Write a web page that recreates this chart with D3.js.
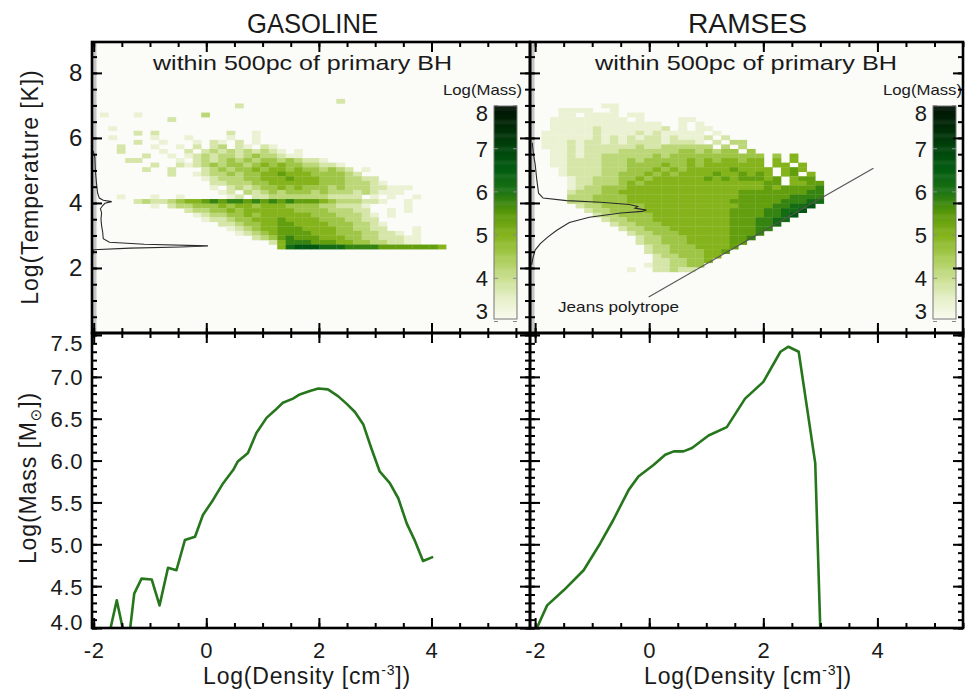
<!DOCTYPE html>
<html><head><meta charset="utf-8">
<script src="https://cdn.jsdelivr.net/npm/d3@7"></script>
<style>
body{margin:0;background:#fff}
svg{display:block}
text{font-family:"Liberation Sans",Arial,Helvetica,sans-serif;fill:#1a1a1a}
</style>
</head><body>
<svg id="c" width="966" height="691"></svg>
<script>
// ---------------- data ----------------
const panelTitles = ["GASOLINE", "RAMSES"];
const subtitle = "within 500pc of primary BH";
const xTickValues = [-2, 0, 2, 4];
const tTickValues = [0, 2, 4, 6, 8];
const tTickLabels = [2, 4, 6, 8];
const mTickValues = [4.0, 4.5, 5.0, 5.5, 6.0, 6.5, 7.0, 7.5];
const cbTickValues = [3, 4, 5, 6, 7, 8];

// histogram binning (Log density, Log temperature)
const binX0 = -2.04, binDX = 0.15, binT0 = 1.88, binDT = 0.14;
// level digit d -> Log(Mass) = levelBase + levelStep*d
const levelBase = 3.0, levelStep = 0.4;

// [temperature row, first density column, levels ('.' = empty)]
const gasolineCells = [
  [37,29,"2"],
  [36,17,"2"],
  [34,1,"1"],[34,5,"1"],[34,13,"3"],
  [33,9,"2"],
  [31,2,"1"],
  [30,5,"2.2"],[30,16,"2..1"],
  [29,2,"1"],[29,7,"1"],[29,11,"1"],[29,16,"1..1"],
  [28,5,"2"],[28,8,"1"],[28,12,"1.21.2.1"],
  [27,3,"2"],[27,7,"1"],[27,10,"1.2.23.21.21"],
  [26,3,"2"],[26,8,"1"],[26,11,"2.2323232321.1"],
  [25,6,"2"],[25,9,"1.12323323433211"],
  [24,4,"22"],[24,10,"1.2323434344343221"],
  [23,7,"2"],[23,10,"21234344345454433221"],
  [22,6,"2"],[22,9,"2"],[22,13,"234344545545443432.1"],
  [21,9,"2"],[21,12,"12334344556555444432"],
  [20,13,"123334455565554443322"],
  [19,14,"223334455555544433321"],
  [18,14,"1.2323445454443433322111"],
  [17,15,"12.3234344434333232111"],
  [16,3,"1"],[16,7,"1"],[16,10,"1"],[16,16,"12.2233333332222.1.1..1"],
  [15,5,"232234556767767676766654333221..1"],
  [14,7,"1"],[14,9,"233444545545554444332221"],[14,37,"1"],
  [13,11,"2334454555555444433322"],[13,35,"1.1"],
  [12,12,"1233445455555544433321"],[12,35,"1"],
  [11,13,"122344555655554443322"],
  [10,15,"22344556655554443321"],
  [9,16,"1234556665555443322"],[9,38,"1"],
  [8,17,"12345666655544433221"],[8,38,"1"],
  [7,19,"23467666555443322211"],
  [6,21,"257776665544332211"],
  [5,22,"58999888777766666665"]
];
const ramsesCells = [
  [36,8,"11"],
  [35,3,"1111"],[35,9,"1"],
  [34,3,"11.1111.11"],
  [33,2,"111111111.1"],[33,17,"11"],
  [32,2,"1111111111111"],[32,17,"1.1"],
  [31,2,"11111211111112.1.11"],
  [30,1,"1111112111121211111.1"],
  [29,1,"11111121212122121112"],[29,22,"2"],
  [28,1,"1112122121222212221"],[28,21,"2.33"],
  [27,1,"11121222222322333333.3.3"],
  [26,2,"1121222233333334434344.4"],
  [25,2,"1121223333334344444444444"],[25,28,"4.5"],
  [24,2,"1122223334344444545455455.5.5"],
  [23,2,"1122223334444544545555555.55.5"],
  [22,3,"1222233344454545555565555.565"],
  [21,3,"1222233444545455556556565.56.5"],
  [20,4,"1223334454555555656566656.566"],
  [19,4,"1223334545555555555555566.5566"],
  [18,4,"123344455555555555555556566667"],
  [17,4,"233344555555555555556666666677"],
  [16,4,"333444455555555555556666667777"],
  [15,4,"333444455555555555566666677788"],
  [14,5,"2334444455555555555666677889"],
  [13,6,"23344445555555555666677889"],
  [12,7,"233444455555555566667789"],
  [11,8,"2334445555555556667788"],
  [10,9,"23344455555555666778"],
  [9,10,"233444555555566677"],
  [8,11,"2334445555556667"],
  [7,12,"23344455555667"],
  [6,12,"2334445555566"],
  [5,13,"23344455556"],
  [4,13,"2334444556"],
  [3,14,"23344455"],
  [2,14,"2233445"],
  [1,13,"1223344"],
  [0,11,"1..22322"]
];

// mass-weighted temperature profiles (black thin lines)
const gasolineProfileT = [5.6,5.4,5.0,4.6,4.3,4.15,4.08,4.04,3.99,3.92,3.82,3.7,3.5,3.3,3.1,2.9,2.79,2.73,2.68,2.645,2.61,2.56,2.4];
const gasolineProfileX = [-2.01,-1.98,-1.97,-1.95,-1.93,-1.90,-1.83,-1.68,-1.80,-1.84,-1.88,-1.86,-1.87,-1.86,-1.84,-1.83,-1.72,-1.10,0.03,-0.45,-1.35,-2.0,-2.02];
const ramsesProfileT = [5.85,5.5,5.2,4.7,4.3,4.15,4.07,4.02,3.95,3.89,3.84,3.78,3.74,3.69,3.56,3.4,3.16,2.95,2.75,2.55,2.3,2.1];
const ramsesProfileX = [-2.05,-2.03,-2.0,-1.97,-1.94,-1.86,-1.45,-0.85,-0.35,-0.20,-0.25,-0.05,-0.12,-0.5,-1.05,-1.4,-1.62,-1.78,-1.91,-2.0,-2.04,-2.06];

// Jeans polytrope
const polytropeDensity = [-0.01, 3.93];
const polytropeT = [1.11, 5.07];

// mass vs density
const gasolineDensity = [-1.80,-1.70,-1.59,-1.47,-1.41,-1.36,-1.28,-1.15,-0.97,-0.83,-0.68,-0.53,-0.38,-0.20,-0.06,0.12,0.30,0.48,0.56,0.74,0.89,1.07,1.22,1.36,1.54,1.66,1.84,1.99,2.16,2.34,2.49,2.64,2.79,2.93,3.08,3.26,3.41,3.56,3.70,3.85,4.03];
const gasolineMass    = [3.80,4.00,4.33,3.95,3.85,3.95,4.41,4.59,4.58,4.27,4.72,4.69,5.05,5.09,5.35,5.53,5.73,5.89,5.99,6.09,6.33,6.51,6.60,6.69,6.74,6.79,6.83,6.86,6.85,6.77,6.68,6.58,6.43,6.15,5.87,5.73,5.55,5.25,5.05,4.80,4.85];
const ramsesDensity = [-1.97,-1.79,-1.50,-1.15,-0.86,-0.63,-0.36,-0.19,0.08,0.28,0.43,0.60,0.75,1.04,1.36,1.68,2.00,2.30,2.44,2.62,2.91,3.00];
const ramsesMass    = [4.00,4.27,4.45,4.69,5.01,5.29,5.65,5.81,5.95,6.07,6.11,6.11,6.15,6.30,6.40,6.74,6.94,7.30,7.36,7.30,5.97,3.95];

// colour table for Log(Mass)
const cmapValues = [3, 3.5, 4, 4.5, 5, 5.5, 6, 6.5, 7, 7.5, 8];
const cmapColors = ["#fbfcf3","#e7f0cb","#c9df91","#a6ca52","#84b31c","#5a990a","#1d7414","#045d12","#00440c","#002a07","#001203"];

// ---------------- drawing ----------------
const svg = d3.select("#c");
const color = d3.scaleLinear().domain(cmapValues).range(cmapColors).interpolate(d3.interpolateRgb).clamp(true);

const boxes = {
  tl:{x0:92, x1:530, y0:42, y1:333},
  tr:{x0:530, x1:963, y0:42, y1:333},
  bl:{x0:92, x1:530, y0:333, y1:628},
  br:{x0:530, x1:963, y0:333, y1:628}
};
const xL = d3.scaleLinear().domain([-2.03, 5.75]).range([92, 530]);
const xR = d3.scaleLinear().domain([-2.09, 5.5]).range([530, 963]);
const yT = d3.scaleLinear().domain([0, 8.95]).range([333, 42]);
const yB = d3.scaleLinear().domain([4, 7.5]).range([628, 335]);
const cbS = d3.scaleLinear().domain([3, 8]).range([321, 105]);

const defs = svg.append("defs");
Object.entries(boxes).forEach(([k,b]) => {
  defs.append("clipPath").attr("id","clip-"+k).append("rect")
    .attr("x",b.x0).attr("y",b.y0).attr("width",b.x1-b.x0).attr("height",b.y1-b.y0);
});

["tl","tr"].forEach(k => {
  const b = boxes[k];
  svg.append("rect").attr("x",b.x0).attr("y",b.y0).attr("width",b.x1-b.x0).attr("height",b.y1-b.y0).attr("fill","#fbfbf8");
});

function expandCells(segs){
  const out = [];
  segs.forEach(([r,c0,s]) => {
    for (let i=0;i<s.length;i++){
      const ch = s[i];
      if (ch === ".") continue;
      out.push({col:c0+i, row:r, v: levelBase + levelStep*(+ch)});
    }
  });
  return out;
}

function heat(key, xs, segs){
  const g = svg.append("g").attr("clip-path","url(#clip-"+key+")");
  g.selectAll("rect").data(expandCells(segs)).join("rect")
    .attr("x", d => xs(binX0 + d.col*binDX))
    .attr("width", d => xs(binX0 + (d.col+1)*binDX) - xs(binX0 + d.col*binDX) + 0.3)
    .attr("y", d => yT(binT0 + (d.row+1)*binDT))
    .attr("height", d => yT(binT0 + d.row*binDT) - yT(binT0 + (d.row+1)*binDT) + 0.3)
    .attr("fill", d => color(d.v));
  const b = boxes[key];
  svg.append("rect").attr("x", b.x0).attr("y", b.y0).attr("width", 4.5).attr("height", b.y1-b.y0).attr("fill","#c6c6c6");
}
heat("tl", xL, gasolineCells);
heat("tr", xR, ramsesCells);

function profile(key, xs, T, X){
  const line = d3.line().x(d => xs(d[0])).y(d => yT(d[1]));
  svg.append("path").attr("clip-path","url(#clip-"+key+")")
    .datum(X.map((x,i)=>[x,T[i]]))
    .attr("d", line).attr("fill","none").attr("stroke","#2b2b2b").attr("stroke-width",1.1);
}
profile("tl", xL, gasolineProfileT, gasolineProfileX);
profile("tr", xR, ramsesProfileT, ramsesProfileX);

svg.append("path").datum(polytropeDensity.map((x,i)=>[x,polytropeT[i]]))
  .attr("d", d3.line().x(d=>xR(d[0])).y(d=>yT(d[1])))
  .attr("stroke","#555").attr("stroke-width",1.1).attr("fill","none");
svg.append("text").attr("x",558).attr("y",312).attr("font-size",15)
  .attr("textLength",121).attr("lengthAdjust","spacingAndGlyphs").text("Jeans polytrope");

function colorbar(xb, labelX0){
  const g = svg.append("g");
  const w = 23, top = 106, bot = 319;
  defs.append("clipPath").attr("id","cb"+xb).append("rect").attr("x",xb).attr("y",top).attr("width",w).attr("height",bot-top);
  const steps = d3.range(3, 8, 0.025);
  g.append("g").attr("clip-path","url(#cb"+xb+")").selectAll("rect").data(steps).join("rect")
    .attr("x", xb).attr("width", w)
    .attr("y", d => cbS(d+0.025)).attr("height", d => cbS(d)-cbS(d+0.025)+0.5)
    .attr("fill", d => color(d+0.0125));
  g.append("rect").attr("x",xb).attr("y",top).attr("width",w).attr("height",bot-top)
    .attr("fill","none").attr("stroke","#777").attr("stroke-width",1);
  const la = g.append("g").attr("transform",`translate(${xb},0)`)
    .call(d3.axisLeft(cbS).tickValues(cbTickValues).tickSizeInner(-4).tickSizeOuter(0).tickPadding(6).tickFormat(d=>String(d)));
  la.select(".domain").remove();
  la.selectAll("line").attr("stroke","#888");
  la.selectAll("text").attr("font-size",22).attr("fill","#1a1a1a")
    .attr("dy", d => d===8 ? "0.72em" : d===3 ? "-0.12em" : "0.36em");
  const ra = g.append("g").attr("transform",`translate(${xb+w},0)`)
    .call(d3.axisRight(cbS).tickValues(cbTickValues).tickSizeInner(-4).tickSizeOuter(0).tickFormat(""));
  ra.select(".domain").remove();
  ra.selectAll("line").attr("stroke","#888");
  g.append("text").attr("x",labelX0).attr("y",95).attr("font-size",15)
    .attr("textLength",79).attr("lengthAdjust","spacingAndGlyphs").text("Log(Mass)");
}
colorbar(494, 443);
colorbar(933, 883);

function curve(key, xs, X, M){
  svg.append("path").attr("clip-path","url(#clip-"+key+")")
    .datum(X.map((x,i)=>[x,M[i]]))
    .attr("d", d3.line().x(d=>xs(d[0])).y(d=>yB(d[1])))
    .attr("fill","none").attr("stroke","#26761c").attr("stroke-width",2.6).attr("stroke-linejoin","round");
}
curve("bl", xL, gasolineDensity, gasolineMass);
curve("br", xR, ramsesDensity, ramsesMass);

const xMinor = d3.range(-2, 5.51, 0.5);
const tMinor = d3.range(0, 8.51, 0.5);
const mMinor = d3.range(4.0, 7.501, 0.1).map(v=>+v.toFixed(2));
function ax(axisFn, scale, tx, ty, vals, size, fmt){
  const a = axisFn(scale).tickValues(vals).tickSizeInner(-size).tickSizeOuter(0).tickPadding(9)
    .tickFormat(fmt || (()=>""));
  const g = svg.append("g").attr("transform",`translate(${tx},${ty})`).call(a);
  g.select(".domain").remove();
  g.selectAll(".tick line").attr("stroke","#000").attr("stroke-width",2);
  g.selectAll(".tick text").attr("font-size",22).attr("fill","#1a1a1a").attr("letter-spacing","0.6px");
  return g;
}
function panelAxes(key, xs, ys, yMaj, yMin, xLab, yLab, yFmt){
  const b = boxes[key];
  ax(d3.axisBottom, xs, 0, b.y1, xMinor, 5);
  const xb = ax(d3.axisBottom, xs, 0, b.y1, xTickValues, 10, xLab ? (d=>String(d)) : null);
  ax(d3.axisTop, xs, 0, b.y0, xMinor, 5);
  ax(d3.axisTop, xs, 0, b.y0, xTickValues, 10);
  ax(d3.axisLeft, ys, b.x0, 0, yMin, 5);
  const yl = ax(d3.axisLeft, ys, b.x0, 0, yMaj, 10, yLab ? yFmt : null);
  ax(d3.axisRight, ys, b.x1, 0, yMin, 5);
  ax(d3.axisRight, ys, b.x1, 0, yMaj, 10);
  svg.append("rect").attr("x",b.x0).attr("y",b.y0).attr("width",b.x1-b.x0).attr("height",b.y1-b.y0)
    .attr("fill","none").attr("stroke","#000").attr("stroke-width",2.6);
  return {xb, yl};
}
const tl = panelAxes("tl", xL, yT, tTickValues, tMinor, false, true, d => tTickLabels.includes(d) ? String(d) : "");
tl.yl.selectAll(".tick text").attr("font-size",24);
panelAxes("tr", xR, yT, tTickValues, tMinor, false, false);
const bl = panelAxes("bl", xL, yB, mTickValues, mMinor, true, true, d3.format(".1f"));
bl.yl.selectAll(".tick text").attr("dy", d => d===7.5 ? "0.72em" : d===4 ? "0.05em" : "0.36em");
bl.xb.selectAll(".tick text").attr("dy","0.95em");
const br = panelAxes("br", xR, yB, mTickValues, mMinor, true, false);
br.xb.selectAll(".tick text").attr("dy","0.95em");

// titles & labels
svg.append("text").attr("x",247).attr("y",33).attr("font-size",27)
  .attr("textLength",131).attr("lengthAdjust","spacingAndGlyphs").text(panelTitles[0]);
svg.append("text").attr("x",688).attr("y",33).attr("font-size",27)
  .attr("textLength",119).attr("lengthAdjust","spacingAndGlyphs").text(panelTitles[1]);
svg.append("text").attr("x",153).attr("y",70).attr("font-size",21)
  .attr("textLength",299).attr("lengthAdjust","spacingAndGlyphs").text(subtitle);
svg.append("text").attr("x",595).attr("y",70).attr("font-size",21)
  .attr("textLength",302).attr("lengthAdjust","spacingAndGlyphs").text(subtitle);

function xLabel(cx){
  const t = svg.append("text").attr("x",cx).attr("y",684).attr("text-anchor","middle").attr("font-size",23).attr("letter-spacing","0.8px");
  t.append("tspan").text("Log(Density [cm");
  t.append("tspan").attr("dy",-9).attr("font-size",14).text("-3");
  t.append("tspan").attr("dy",9).text("])");
}
xLabel(307);
xLabel(748);

svg.append("text").attr("transform","translate(38,187) rotate(-90)").attr("text-anchor","middle")
  .attr("font-size",23).attr("letter-spacing","0.9px").text("Log(Temperature [K])");
const ml = svg.append("text").attr("transform","translate(36,478) rotate(-90)").attr("text-anchor","middle")
  .attr("font-size",23).attr("letter-spacing","0.9px");
ml.append("tspan").text("Log(Mass [M");
ml.append("tspan").attr("dy",5).attr("font-size",15).attr("font-family","DejaVu Sans").text("⊙");
ml.append("tspan").attr("dy",-5).text("])");
</script>
</body></html>
